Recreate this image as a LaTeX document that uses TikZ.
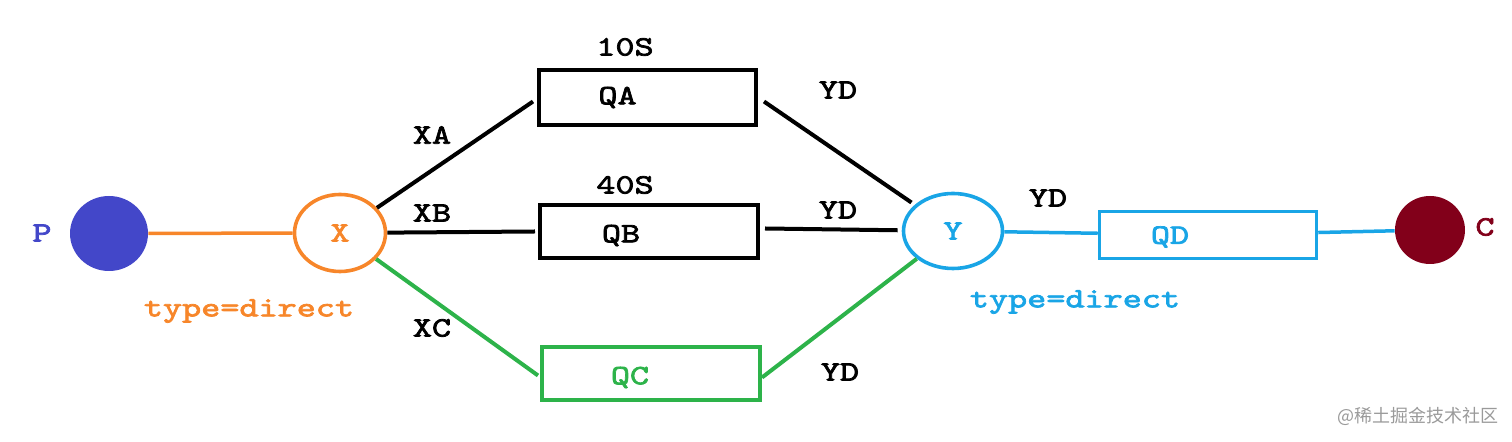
\documentclass[tikz,border=0pt]{standalone}
\usepackage{fontspec}
\usetikzlibrary{shapes.geometric}
\newfontfamily\lblfont[FakeStretch=1.3, FakeBold=2.6]{lmmono10-regular.otf}
\newfontfamily\cjkfont{Noto Sans CJK SC}
\definecolor{xorange}{HTML}{F7862A}
\definecolor{ycyan}{HTML}{19A5E6}
\definecolor{cgreen}{HTML}{2DB34A}
\definecolor{pblue}{HTML}{4347C9}
\definecolor{cred}{HTML}{82001A}
\definecolor{wmgray}{HTML}{9A9A9A}
\tikzset{
  txt/.style={font=\lblfont\fontsize{14}{16}\selectfont, inner sep=0pt},
  qbox/.style={draw, rectangle, line width=2pt, minimum width=108.5pt, minimum height=27pt, inner sep=0pt},
  exch/.style={draw, ellipse, line width=1.8pt, inner sep=0pt, font=\lblfont\fontsize{14}{16}\selectfont},
  endpt/.style={ellipse, inner sep=0pt},
  conn/.style={line width=2pt, line cap=butt},
}
\begin{document}
\begin{tikzpicture}[x=0.5pt, y=-0.5pt]
\useasboundingbox (0,0) rectangle (1512,442);
% end points
\node[endpt, fill=pblue, minimum width=39pt, minimum height=37.5pt] (P) at (109,233.5) {};
\node[txt, text=pblue] (Plbl) at (42,233) {P};
\node[endpt, fill=cred, minimum width=35pt, minimum height=34pt] (C) at (1430,230) {};
\node[txt, text=cred] (Clbl) at (1485,227) {C};
% exchanges
\node[exch, draw=xorange, text=xorange, minimum width=45.5pt, minimum height=38.5pt] (X) at (340,233) {X};
\node[exch, draw=ycyan, text=ycyan, minimum width=49.5pt, minimum height=37.5pt] (Y) at (953,231) {Y};
\node[txt, text=xorange] (Xtype) at (249,311) {type=direct};
\node[txt, text=ycyan] (Ytype) at (1075,302) {type=direct};
% queues
\node[qbox, minimum height=27.5pt, label={[txt, xshift=-15pt, yshift=0pt]center:QA}] (QA) at (647.5,97.5) {};
\node[qbox, minimum width=109pt, minimum height=26.5pt, label={[txt, xshift=-14pt, yshift=-2pt]center:QB}] (QB) at (649,231.5) {};
\node[qbox, draw=cgreen, minimum width=109pt, minimum height=26.5pt, label={[txt, text=cgreen, xshift=-10.5pt, yshift=-2pt]center:QC}] (QC) at (651,373.5) {};
\node[qbox, draw=ycyan, line width=1.75pt, minimum width=108.5pt, minimum height=23.5pt, label={[txt, text=ycyan, xshift=-19pt, yshift=-1pt]center:QD}] (QD) at (1208,235) {};
\node[txt] (ttlA) at (625,47) {10S};
\node[txt] (ttlB) at (625,185) {40S};
% connectors
\draw[conn, xorange, line width=1.75pt] (P) -- (X);
\draw[conn] (X) -- ([xshift=-2pt,yshift=-2pt]QA.west);
\draw[conn] (X) -- ([xshift=-1.5pt]QB.west);
\draw[conn, cgreen] (X) -- ([xshift=-1pt,yshift=-1pt]QC.west);
\draw[conn, shorten >=2pt] ([xshift=3pt,yshift=-2pt]QA.east) -- (Y);
\draw[conn, shorten >=2pt] ([xshift=2.5pt,yshift=1.5pt]QB.east) -- (Y);
\draw[conn, cgreen] ([yshift=-2pt]QC.east) -- (Y);
\draw[conn, ycyan, line width=1.75pt] (Y) -- (QD);
\draw[conn, ycyan, line width=1.75pt] (QD) -- (C);
% binding keys
\node[txt] (kXA) at (432,135) {XA};
\node[txt] (kXB) at (432,213) {XB};
\node[txt] (kXC) at (432,328) {XC};
\node[txt] (kYA) at (838,90) {YD};
\node[txt] (kYB) at (838,210) {YD};
\node[txt] (kYC) at (840,372) {YD};
\node[txt] (kYD) at (1048,198) {YD};
% watermark
\node[font=\cjkfont\fontsize{9}{11}\selectfont, text=wmgray, inner sep=0pt] (wm) at (1418,416) {@稀土掘金技术社区};
\end{tikzpicture}
\end{document}
